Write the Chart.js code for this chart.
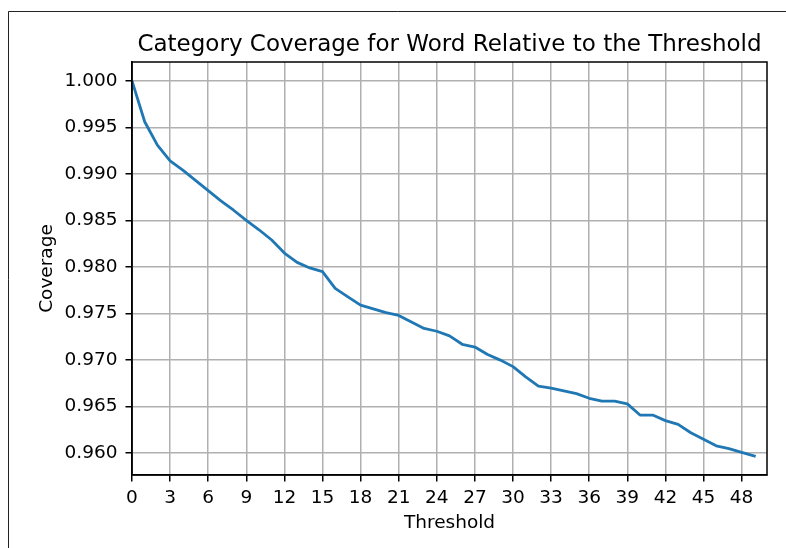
<!DOCTYPE html>
<html>
<head>
<meta charset="utf-8">
<script src="https://cdn.jsdelivr.net/npm/chart.js@4"></script>
<style>
  html, body { margin: 0; padding: 0; background: #fff; }
  #wrap { position: relative; width: 786px; height: 548px; }
  canvas { display: block; }
</style>
</head>
<body>
<div id="wrap"><canvas id="c" width="786" height="548"></canvas></div>
<script>
const thresholds = [0,1,2,3,4,5,6,7,8,9,10,11,12,13,14,15,16,17,18,19,20,21,22,23,24,25,26,27,28,29,30,31,32,33,34,35,36,37,38,39,40,41,42,43,44,45,46,47,48,49];
const coverage = [1.0000,0.9956,0.9931,0.9914,0.9904,0.9893,0.9882,0.9871,0.9861,0.9850,
                  0.9840,0.9829,0.9815,0.9805,0.9799,0.9795,0.9777,0.9768,0.9759,0.9755,
                  0.9751,0.9748,0.9741,0.9734,0.9731,0.9726,0.9717,0.9714,0.9706,0.9700,
                  0.9693,0.9682,0.9672,0.9670,0.9667,0.9664,0.9659,0.9656,0.9656,0.9653,
                  0.9641,0.9641,0.9635,0.9631,0.9622,0.9615,0.9608,0.9605,0.9601,0.9597];
const xTickValues = [0,3,6,9,12,15,18,21,24,27,30,33,36,39,42,45,48];
const yTickValues = [0.960,0.965,0.970,0.975,0.980,0.985,0.990,0.995,1.000];
const titleText = 'Category Coverage for Word Relative to the Threshold';
const xTitle = 'Threshold';
const yTitle = 'Coverage';

const FONT = "'DejaVu Sans', sans-serif";

const framePlugin = {
  id: 'frame',
  beforeDraw(chart) {
    const ctx = chart.ctx;
    ctx.save();
    ctx.fillStyle = '#ffffff';
    ctx.fillRect(0, 0, chart.width, chart.height);
    ctx.strokeStyle = '#222222';
    ctx.lineWidth = 1;
    ctx.beginPath();
    ctx.moveTo(8.5, chart.height);
    ctx.lineTo(8.5, 11.5);
    ctx.lineTo(chart.width, 11.5);
    ctx.stroke();
    ctx.restore();
  },
  afterDatasetsDraw(chart) {
    const a = chart.chartArea;
    const ctx = chart.ctx;
    ctx.save();
    ctx.strokeStyle = '#000000';
    ctx.lineWidth = 1.5;
    ctx.strokeRect(a.left, a.top, a.right - a.left, a.bottom - a.top);
    ctx.restore();
  }
};

new Chart(document.getElementById('c'), {
  type: 'line',
  data: {
    datasets: [{
      data: thresholds.map((t, i) => ({ x: t, y: coverage[i] })),
      borderColor: '#1f77b4',
      borderWidth: 2.8,
      pointRadius: 0,
      tension: 0,
      fill: false,
      borderJoinStyle: 'round',
      borderCapStyle: 'square'
    }]
  },
  options: {
    responsive: false,
    devicePixelRatio: 1,
    animation: false,
    layout: { padding: { left: 0, right: 19, top: 0, bottom: 0 } },
    plugins: {
      legend: { display: false },
      tooltip: { enabled: false },
      title: {
        display: true,
        text: titleText,
        fullSize: false,
        color: '#000',
        font: { family: FONT, size: 23, weight: 'normal' },
        padding: { top: 30.9, bottom: 3.5 }
      }
    },
    scales: {
      x: {
        type: 'linear',
        min: 0,
        max: 50,
        afterFit(scale) { scale.height = 73; },
        afterBuildTicks(scale) { scale.ticks = xTickValues.map(v => ({ value: v })); },
        ticks: {
          color: '#000',
          font: { family: FONT, size: 18.5 },
          padding: 5.2,
          maxRotation: 0,
          autoSkip: false,
          callback: (v) => String(v)
        },
        grid: {
          color: '#b0b0b0',
          lineWidth: 1.5,
          drawTicks: true,
          tickLength: 6.5,
          tickColor: '#000',
          tickWidth: 1.5
        },
        border: { display: true, color: '#000', width: 1.5 },
        title: {
          display: true,
          text: xTitle,
          color: '#000',
          font: { family: FONT, size: 18.5 },
          padding: { top: 0, bottom: 13.8 }
        }
      },
      y: {
        type: 'linear',
        min: 0.95766,
        max: 1.00202,
        afterFit(scale) { scale.width = 132; },
        afterBuildTicks(scale) { scale.ticks = yTickValues.map(v => ({ value: v })); },
        ticks: {
          color: '#000',
          font: { family: FONT, size: 18.5 },
          padding: 8,
          autoSkip: false,
          callback: (v) => Number(v).toFixed(3)
        },
        grid: {
          color: '#b0b0b0',
          lineWidth: 1.5,
          drawTicks: true,
          tickLength: 6.5,
          tickColor: '#000',
          tickWidth: 1.5
        },
        border: { display: true, color: '#000', width: 1.5 },
        title: {
          display: true,
          text: yTitle,
          color: '#000',
          font: { family: FONT, size: 18.5 },
          padding: { top: 36.3, bottom: 0 }
        }
      }
    }
  },
  plugins: [framePlugin]
});
</script>
</body>
</html>
